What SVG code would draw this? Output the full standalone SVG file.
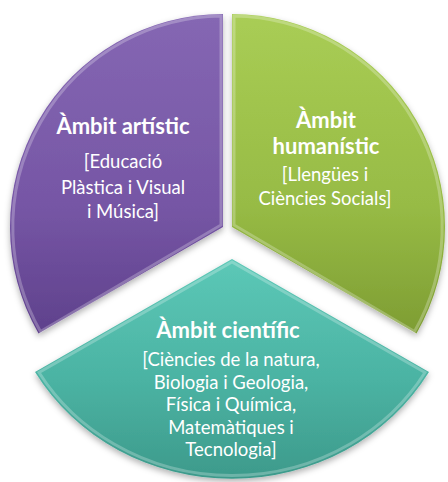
<svg xmlns="http://www.w3.org/2000/svg" width="448" height="482" viewBox="0 0 448 482">
  <defs>
    <linearGradient id="gP" x1="0" y1="0" x2="0" y2="1">
      <stop offset="0" stop-color="#8567B3"/>
      <stop offset="0.6" stop-color="#7656A5"/>
      <stop offset="1" stop-color="#5F418C"/>
    </linearGradient>
    <linearGradient id="gG" x1="0" y1="0" x2="0" y2="1">
      <stop offset="0" stop-color="#A9CD55"/>
      <stop offset="0.6" stop-color="#97BB45"/>
      <stop offset="1" stop-color="#7E9D33"/>
    </linearGradient>
    <linearGradient id="gT" x1="0" y1="0" x2="0" y2="1">
      <stop offset="0" stop-color="#5CC8B7"/>
      <stop offset="0.55" stop-color="#4BB3A3"/>
      <stop offset="1" stop-color="#3D9A8B"/>
    </linearGradient>
    <filter id="sh" x="-10%" y="-10%" width="120%" height="125%">
      <feDropShadow dx="0" dy="3" stdDeviation="3" flood-color="#000" flood-opacity="0.3"/>
    </filter>
    <style>
      .bevel { fill: none; stroke: #fff; stroke-opacity: 0.25; stroke-width: 3; }
      .t { font-family: Lato, "Liberation Sans", sans-serif; fill: #fff; text-anchor: middle; }
      .h { font-weight: bold; font-size: 22px; }
      .s { font-size: 18.5px; }
    </style>
  </defs>

  <g id="artistic">
    <path d="M223,227 L223,14 A213,213 0 0 0 38.5,333.5 Z" fill="url(#gP)" filter="url(#sh)"/>
    <path d="M221,225 L221,16 A211,211 0 0 0 40.5,331.5 Z" class="bevel"/>
    <text class="t h" x="123" y="134">Àmbit artístic</text>
    <text class="t s" x="123" y="168">[Educació</text>
    <text class="t s" x="123" y="194">Plàstica i Visual</text>
    <text class="t s" x="123" y="218">i Música]</text>
  </g>

  <g id="humanistic">
    <path d="M232,227 L232,14 A213,213 0 0 1 416.5,333.5 Z" fill="url(#gG)" filter="url(#sh)"/>
    <path d="M234,225 L234,16 A211,211 0 0 1 414.5,331.5 Z" class="bevel"/>
    <text class="t h" x="326" y="128">Àmbit</text>
    <text class="t h" x="326" y="154">humanístic</text>
    <text class="t s" x="325" y="181">[Llengües i</text>
    <text class="t s" x="325" y="205">Ciències Socials]</text>
  </g>

  <g id="cientific">
    <path d="M232,259 L35,372 A228,215 0 0 0 429,372 Z" fill="url(#gT)" filter="url(#sh)"/>
    <path d="M232,262 L39,372.5 A225,212 0 0 0 425,372.5 Z" class="bevel"/>
    <text class="t h" x="228" y="338">Àmbit científic</text>
    <text class="t s" x="231" y="366">[Ciències de la natura,</text>
    <text class="t s" x="231" y="389">Biologia i Geologia,</text>
    <text class="t s" x="231" y="411">Física i Química,</text>
    <text class="t s" x="231" y="434">Matemàtiques i</text>
    <text class="t s" x="231" y="456">Tecnologia]</text>
  </g>

  <g id="connectors"/>
</svg>
